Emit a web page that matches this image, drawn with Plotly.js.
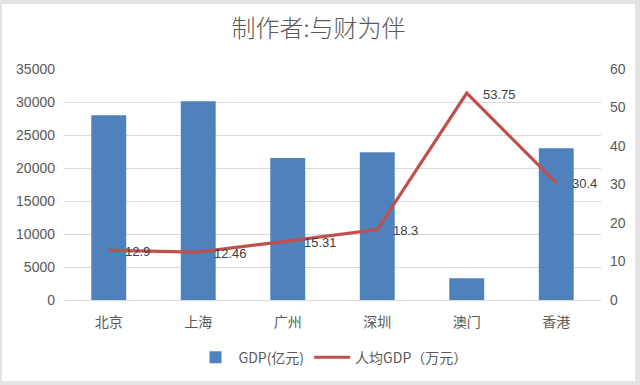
<!DOCTYPE html>
<html>
<head>
<meta charset="utf-8">
<script src="https://cdn.plot.ly/plotly-3.0.1.min.js"></script>
<style>
html,body{margin:0;padding:0;background:#e3e3e3;width:640px;height:385px;overflow:hidden;}
#chart{position:absolute;left:2px;top:4px;width:633px;height:377px;background:#fff;}
</style>
</head>
<body>
<div id="chart"></div>
<script>
var cities = ['北京', '上海', '广州', '深圳', '澳门', '香港'];
var gdp = [28000, 30100, 21500, 22400, 3300, 23000];
var perCapita = [12.9, 12.46, 15.31, 18.3, 53.75, 30.4];
var perCapitaLabels = ['12.9', '12.46', '15.31', '18.3', '53.75', '30.4'];
var leftTicks = [0, 5000, 10000, 15000, 20000, 25000, 30000, 35000];
var leftTickText = ['0', '5000', '10000', '15000', '20000', '25000', '30000', '35000'];
var rightTicks = [0, 10, 20, 30, 40, 50, 60];

var numFont = 'Liberation Sans, Arial, sans-serif';
var cjkFont = 'Noto Sans CJK SC, sans-serif';

var traces = [
  {
    type: 'bar', name: 'GDP(亿元)', x: cities, y: gdp,
    marker: {color: '#4F81BD'}, yaxis: 'y', hoverinfo: 'none'
  },
  {
    type: 'scatter', mode: 'lines', name: '人均GDP（万元）', x: cities, y: perCapita,
    line: {color: '#C0504D', width: 3.2}, yaxis: 'y2', hoverinfo: 'none'
  }
];

var annotations = cities.map(function (c, i) {
  return {
    x: c, y: perCapita[i], xref: 'x', yref: 'y2', text: perCapitaLabels[i],
    showarrow: false, xanchor: 'left', yanchor: 'middle', xshift: 14, yshift: -1,
    font: {family: numFont, size: 13, color: '#404040'}
  };
});

var layout = {
  width: 633, height: 377,
  margin: {l: 62, r: 34, t: 65, b: 81},
  paper_bgcolor: '#ffffff', plot_bgcolor: '#ffffff',
  title: {text: '制作者:与财为伴', x: 0.5, xanchor: 'center', yref: 'container', y: 0.935, yanchor: 'middle',
          font: {family: cjkFont, size: 24, color: '#595959', weight: 300}},
  bargap: 0.61,
  showlegend: true,
  legend: {orientation: 'h', x: 0.5, xanchor: 'center', yref: 'container', y: 0.062, yanchor: 'middle',
           itemwidth: 36,
           font: {family: cjkFont, size: 14, color: '#595959'}, traceorder: 'normal'},
  xaxis: {
    type: 'category', showgrid: false, showline: false, zeroline: false, ticks: '',
    tickfont: {family: cjkFont, size: 14, color: '#595959'}, ticklabelstandoff: 12, fixedrange: true
  },
  yaxis: {
    range: [0, 35000], tickvals: leftTicks, ticktext: leftTickText,
    showgrid: true, gridcolor: '#d9d9d9', gridwidth: 1,
    zeroline: true, zerolinecolor: '#d9d9d9', zerolinewidth: 1, showline: false, ticks: '',
    tickfont: {family: numFont, size: 14, color: '#595959'}, ticklabelstandoff: 8
  },
  yaxis2: {
    range: [0, 60], tickvals: rightTicks, overlaying: 'y', side: 'right', showgrid: false,
    zeroline: false, showline: false, ticks: '',
    tickfont: {family: numFont, size: 14, color: '#595959'}, ticklabelstandoff: 8
  },
  annotations: annotations
};

Plotly.newPlot('chart', traces, layout, {displayModeBar: false, staticPlot: true});
</script>
</body>
</html>
